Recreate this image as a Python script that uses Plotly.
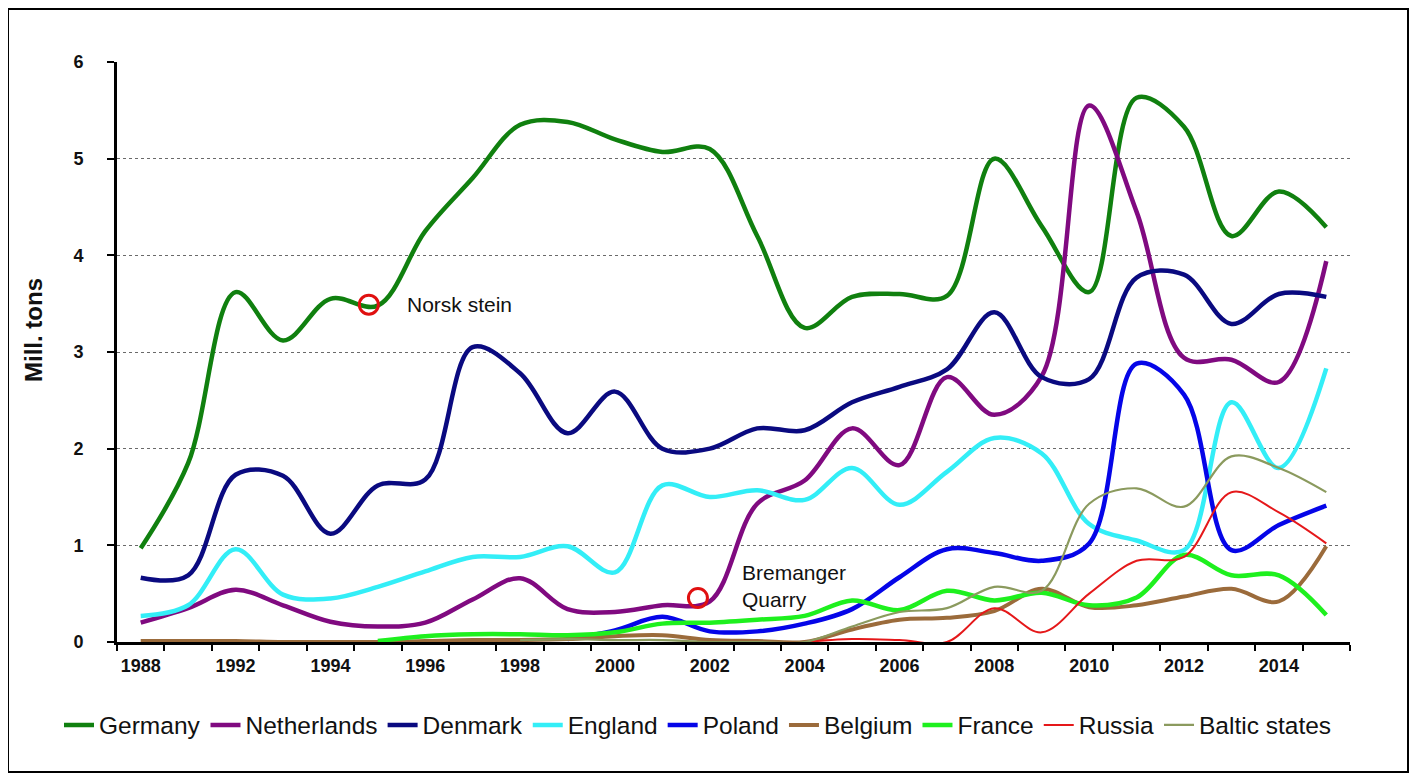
import plotly.graph_objects as go

years = ["1988", "1990", "1992", "1993", "1994", "1995", "1996", "1997", "1998", "1999",
         "2000", "2001", "2002", "2003", "2004", "2005", "2006", "2007", "2008", "2009",
         "2010", "2011", "2012", "2013", "2014", "2015"]

germany = [0.97, 1.85, 3.62, 3.12, 3.55, 3.48, 4.25, 4.80, 5.35, 5.38, 5.20, 5.07, 5.10,
           4.20, 3.25, 3.57, 3.60, 3.58, 5.00, 4.30, 3.62, 5.63, 5.33, 4.20, 4.66, 4.29]
netherlands = [0.20, 0.35, 0.54, 0.38, 0.21, 0.16, 0.20, 0.44, 0.66, 0.34, 0.31, 0.38, 0.42,
               1.43, 1.67, 2.21, 1.83, 2.74, 2.35, 2.75, 5.55, 4.45, 2.94, 2.92, 2.69, 3.94]
denmark = [0.665, 0.69, 1.73, 1.72, 1.12, 1.62, 1.68, 3.05, 2.78, 2.16, 2.59, 2.00, 2.00,
           2.21, 2.19, 2.48, 2.64, 2.82, 3.41, 2.74, 2.72, 3.77, 3.80, 3.29, 3.60, 3.57]
england = [0.27, 0.38, 0.96, 0.49, 0.45, 0.57, 0.73, 0.88, 0.88, 0.99, 0.72, 1.62, 1.50,
           1.57, 1.47, 1.80, 1.42, 1.76, 2.11, 1.95, 1.22, 1.05, 0.95, 2.48, 1.80, 2.83]
poland = [None, None, None, None, None, None, None, None, None, 0.03, 0.12, 0.26, 0.11,
          0.11, 0.19, 0.34, 0.67, 0.96, 0.92, 0.84, 1.02, 2.88, 2.56, 0.95, 1.21, 1.41]
belgium = [0.01, 0.01, 0.01, 0.00, 0.00, 0.00, 0.01, 0.02, 0.02, 0.03, 0.06, 0.07, 0.02,
           0.01, 0.00, 0.13, 0.23, 0.25, 0.32, 0.55, 0.36, 0.38, 0.47, 0.55, 0.42, 0.99]
france = [None, None, None, None, None, 0.01, 0.06, 0.08, 0.08, 0.07, 0.10, 0.19, 0.20,
          0.23, 0.27, 0.43, 0.33, 0.53, 0.43, 0.51, 0.38, 0.46, 0.90, 0.69, 0.69, 0.28]
russia = [None, None, None, None, None, None, None, None, None, None, None, None, None,
          None, 0.00, 0.03, 0.02, 0.00, 0.35, 0.10, 0.50, 0.84, 0.88, 1.55, 1.34, 1.02]
baltic = [None, None, None, None, None, None, None, None, 0.02, 0.03, 0.02, 0.02, 0.00,
          0.00, 0.00, 0.16, 0.31, 0.35, 0.57, 0.53, 1.43, 1.59, 1.40, 1.92, 1.80, 1.55]

series = [
    ("Germany", germany, "#10800f", 4.5),
    ("Netherlands", netherlands, "#800a80", 4.5),
    ("Denmark", denmark, "#0a0a80", 4.5),
    ("England", england, "#33eef7", 4.5),
    ("Poland", poland, "#0505e8", 4.5),
    ("Belgium", belgium, "#9b6b3b", 4.0),
    ("France", france, "#1ef01e", 4.5),
    ("Russia", russia, "#e5181a", 2.0),
    ("Baltic states", baltic, "#8b9a5e", 2.2),
]

xs = list(range(len(years)))
label_idx = [0] + list(range(2, len(years) - 1, 2))

FONT = "Liberation Sans, Arial, sans-serif"

# figure is placed by the page at an 8px offset, so the figure is sized to fit
W, H = 1401, 765
ML, MT, MR, MB = 109, 54, 59, 131
PW, PH = W - ML - MR, H - MT - MB

fig = go.Figure()
for name, vals, color, w in series:
    fig.add_trace(go.Scatter(
        x=xs, y=vals, name=name, mode="lines",
        line=dict(color=color, width=w, shape="spline", smoothing=1.0),
    ))

fig.update_layout(
    width=W, height=H,
    margin=dict(l=ML, r=MR, t=MT, b=MB),
    paper_bgcolor="white", plot_bgcolor="white",
    font=dict(family=FONT, color="black"),
    showlegend=True,
    legend=dict(orientation="h", x=(51 - ML) / PW, xanchor="left",
                y=(MT + PH - 717) / PH, yanchor="middle",
                font=dict(size=24.5, family=FONT, color="#111111"),
                itemwidth=30, tracegroupgap=0, bgcolor="rgba(0,0,0,0)"),
)

fig.update_xaxes(
    range=[-0.5, len(years) - 0.5],
    tickmode="array", tickvals=label_idx, ticktext=[years[i] for i in label_idx],
    ticks="", showgrid=False, zeroline=False,
    showline=True, linecolor="black", linewidth=3,
    tickfont=dict(size=18, family=FONT, weight="bold", color="#111111"),
    ticklabelstandoff=5,
    minor=dict(tickmode="linear", tick0=-0.5, dtick=1, ticks="outside", ticklen=6,
               tickwidth=2, tickcolor="black", showgrid=False),
)

fig.update_yaxes(
    range=[0, 6], tickmode="linear", tick0=0, dtick=1,
    ticks="outside", ticklen=7, tickwidth=2, tickcolor="black",
    showline=True, linecolor="black", linewidth=3,
    showgrid=True, gridcolor="#6a6a6a", gridwidth=1, griddash="dot",
    zeroline=False,
    tickfont=dict(size=18, family=FONT, weight="bold", color="#111111"),
    ticklabelstandoff=20,
)

# axis title
fig.add_annotation(text="<b>Mill. tons</b>", xref="paper", yref="paper",
                   x=(25 - ML) / PW, y=(MT + PH - 322) / PH, xanchor="center", yanchor="middle",
                   textangle=-90, showarrow=False,
                   font=dict(size=24, family=FONT, color="#111111"))

# point annotations
fig.add_annotation(text="Norsk stein", x=5.57, y=3.49, xanchor="left", yanchor="middle",
                   showarrow=False, font=dict(size=21, family=FONT, color="#111111"))
fig.add_annotation(text="Bremanger<br>Quarry", x=12.63, y=0.58, xanchor="left",
                   yanchor="middle", align="left", showarrow=False,
                   font=dict(size=21, family=FONT, color="#111111"))

for cx, cy in [(4.81, 3.49), (11.75, 0.455)]:
    fig.add_shape(type="circle", xref="x", yref="y", xsizemode="pixel", ysizemode="pixel",
                  xanchor=cx, yanchor=cy, x0=-9.5, x1=9.5, y0=-9.5, y1=9.5,
                  line=dict(color="#e01010", width=3), fillcolor="rgba(0,0,0,0)")

# outer frame
fig.add_shape(type="rect", xref="paper", yref="paper",
              x0=(0 - ML) / PW, x1=(W - 1 - ML) / PW,
              y0=(MT + PH - (H - 1)) / PH, y1=(MT + PH - 1) / PH,
              line=dict(color="black", width=2), fillcolor="rgba(0,0,0,0)", layer="below")

fig.write_html("out.html")
